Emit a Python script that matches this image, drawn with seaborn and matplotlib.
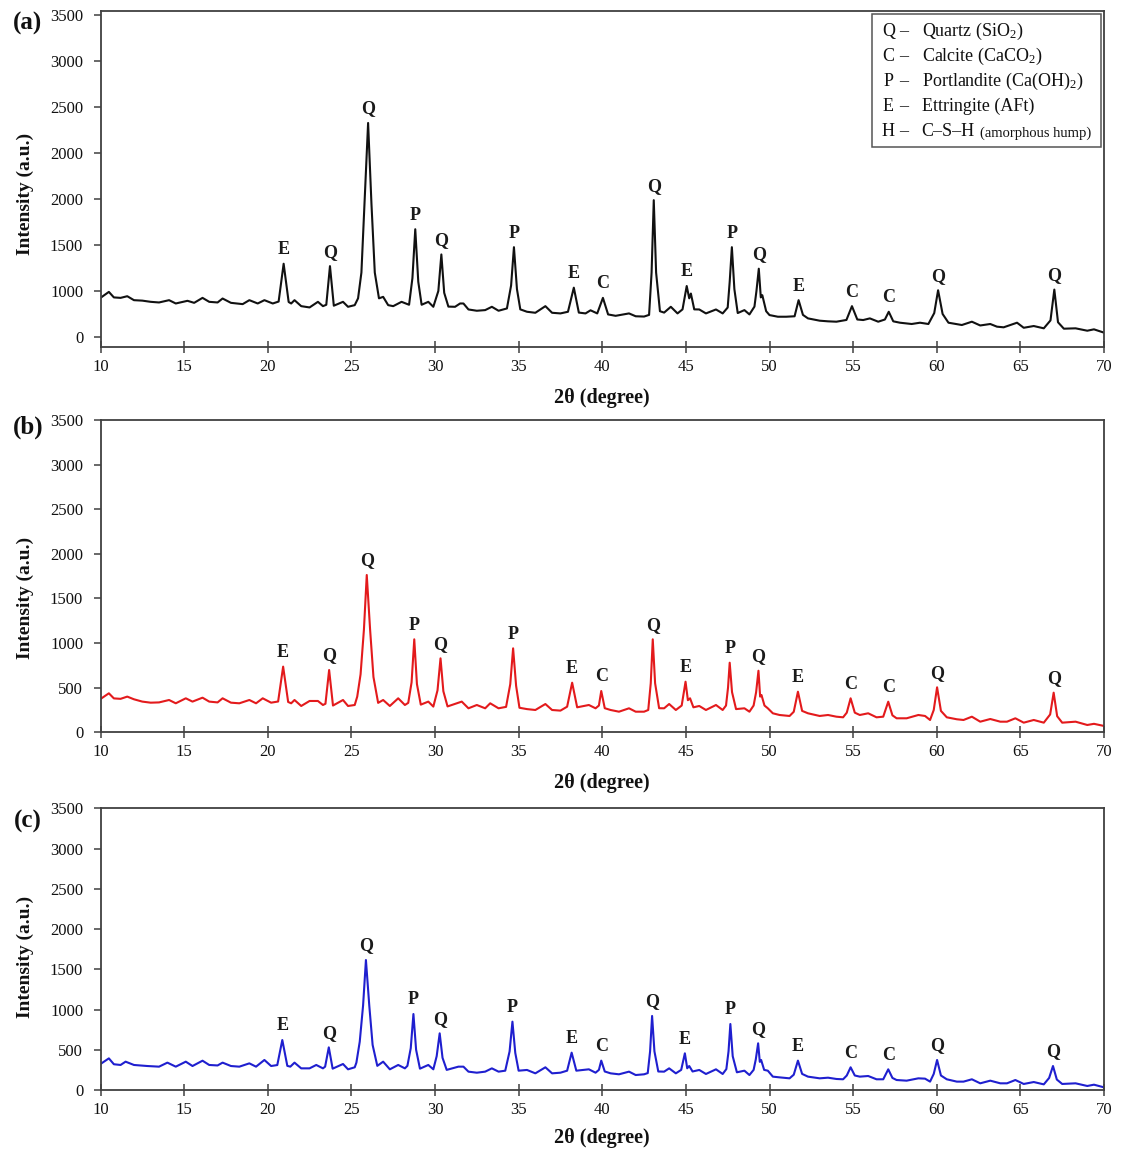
import numpy as np
import pandas as pd
import matplotlib
matplotlib.use("Agg")
import matplotlib.pyplot as plt
import seaborn as sns
from matplotlib.patches import Rectangle

# ---------------- data ----------------
theta_a = [10.0, 10.5, 10.8, 11.2, 11.6, 12.0, 12.5, 13.0, 13.5, 14.1,
           14.5, 15.2, 15.6, 16.1, 16.5, 17.0, 17.3, 17.8, 18.5, 18.9,
           19.4, 19.8, 20.3, 20.65, 20.95, 21.25, 21.4, 21.6, 22.0, 22.5,
           23.0, 23.3, 23.5, 23.72, 23.95, 24.5, 24.8, 25.2, 25.4, 25.6,
           25.8, 26.0, 26.2, 26.4, 26.65, 26.9, 27.2, 27.5, 28.0, 28.45,
           28.65, 28.82, 29.0, 29.2, 29.6, 29.9, 30.2, 30.38, 30.55, 30.8,
           31.2, 31.5, 31.7, 32.0, 32.5, 33.0, 33.4, 33.8, 34.3, 34.55,
           34.72, 34.9, 35.1, 35.5, 36.0, 36.6, 37.0, 37.5, 37.95, 38.3,
           38.6, 39.0, 39.3, 39.7, 40.04, 40.35, 40.8, 41.6, 42.0, 42.5,
           42.8, 42.95, 43.08, 43.22, 43.45, 43.7, 44.1, 44.5, 44.8, 45.05,
           45.2, 45.3, 45.5, 45.8, 46.2, 46.8, 47.2, 47.5, 47.62, 47.75,
           47.9, 48.1, 48.5, 48.8, 49.1, 49.22, 49.36, 49.48, 49.57, 49.8,
           50.0, 50.5, 51.0, 51.5, 51.74, 52.0, 52.3, 53.0, 53.5, 54.0,
           54.6, 54.93, 55.25, 55.6, 56.0, 56.5, 56.9, 57.13, 57.4, 57.8,
           58.5, 59.0, 59.5, 59.85, 60.08, 60.35, 60.7, 61.5, 62.1, 62.6,
           63.2, 63.6, 64.0, 64.8, 65.2, 65.8, 66.4, 66.8, 67.03, 67.25,
           67.6, 68.3, 69.0, 69.4, 70.0]
counts_a = [425, 490, 430, 425, 443, 400, 395, 382, 375, 400,
            364, 393, 371, 425, 382, 375, 418, 371, 357, 400,
            364, 400, 364, 385, 796, 380, 364, 400, 335, 321,
            382, 335, 350, 770, 340, 382, 328, 346, 420, 700,
            1500, 2326, 1450, 700, 420, 436, 346, 335, 382, 350,
            640, 1171, 600, 350, 382, 328, 500, 897, 480, 330,
            328, 364, 364, 299, 285, 292, 328, 285, 310, 560,
            976, 520, 300, 274, 263, 335, 263, 256, 274, 536,
            265, 256, 290, 256, 425, 245, 230, 256, 225, 222,
            240, 700, 1487, 700, 280, 265, 328, 256, 300, 554,
            420, 472, 300, 299, 256, 299, 256, 320, 600, 976,
            520, 260, 292, 245, 330, 500, 742, 430, 454, 280,
            238, 220, 220, 225, 400, 240, 202, 177, 170, 166,
            185, 335, 190, 184, 202, 166, 190, 274, 170, 155,
            141, 155, 141, 260, 508, 250, 155, 130, 166, 125,
            141, 112, 105, 155, 100, 119, 94, 180, 515, 160,
            90, 94, 68, 83, 47]

theta_b = [10.0, 10.5, 10.8, 11.2, 11.6, 12.0, 12.5, 13.0, 13.5, 14.1,
           14.5, 15.1, 15.5, 16.1, 16.5, 17.0, 17.3, 17.8, 18.3, 18.9,
           19.3, 19.7, 20.2, 20.62, 20.92, 21.22, 21.4, 21.6, 22.0, 22.5,
           23.0, 23.3, 23.45, 23.67, 23.9, 24.5, 24.8, 25.2, 25.35, 25.55,
           25.75, 25.92, 26.12, 26.32, 26.6, 26.9, 27.3, 27.8, 28.2, 28.4,
           28.6, 28.76, 28.92, 29.15, 29.6, 29.9, 30.15, 30.33, 30.5, 30.75,
           31.4, 31.6, 32.0, 32.5, 33.0, 33.3, 33.8, 34.25, 34.5, 34.67,
           34.85, 35.05, 35.5, 36.0, 36.6, 37.0, 37.5, 37.9, 38.2, 38.5,
           39.2, 39.6, 39.8, 39.94, 40.15, 40.5, 41.0, 41.6, 42.0, 42.5,
           42.75, 42.9, 43.02, 43.16, 43.4, 43.7, 44.0, 44.4, 44.75, 44.98,
           45.12, 45.25, 45.45, 45.8, 46.2, 46.8, 47.2, 47.4, 47.52, 47.62,
           47.76, 48.0, 48.5, 48.8, 49.05, 49.2, 49.34, 49.44, 49.52, 49.7,
           49.9, 50.2, 50.6, 51.2, 51.45, 51.7, 51.95, 52.3, 53.0, 53.5,
           54.0, 54.4, 54.62, 54.85, 55.1, 55.4, 55.9, 56.4, 56.8, 57.1,
           57.35, 57.6, 58.2, 58.9, 59.3, 59.6, 59.82, 60.02, 60.25, 60.6,
           61.2, 61.6, 62.1, 62.6, 63.2, 63.8, 64.2, 64.7, 65.2, 65.8,
           66.4, 66.78, 66.99, 67.2, 67.5, 68.3, 69.0, 69.4, 70.0]
counts_b = [373, 437, 380, 375, 400, 370, 344, 332, 335, 362,
            325, 381, 344, 388, 344, 335, 381, 332, 325, 362,
            325, 381, 332, 345, 736, 340, 325, 362, 295, 351,
            351, 306, 320, 698, 300, 362, 295, 306, 400, 650,
            1150, 1763, 1150, 620, 330, 362, 295, 381, 306, 330,
            560, 1042, 540, 310, 344, 288, 470, 829, 460, 290,
            332, 344, 269, 306, 269, 325, 269, 285, 540, 941,
            520, 275, 260, 250, 317, 250, 243, 287, 556, 280,
            306, 269, 300, 463, 270, 250, 231, 269, 231, 231,
            250, 550, 1042, 550, 270, 269, 317, 250, 300, 567,
            360, 381, 280, 295, 250, 306, 250, 300, 500, 780,
            450, 260, 269, 231, 300, 450, 690, 400, 418, 300,
            269, 213, 194, 183, 230, 455, 240, 213, 183, 194,
            175, 168, 220, 381, 220, 194, 213, 168, 175, 343,
            190, 157, 157, 194, 183, 138, 250, 504, 240, 168,
            146, 138, 175, 119, 149, 119, 119, 157, 108, 138,
            108, 200, 444, 180, 108, 119, 82, 95, 71]

theta_c = [10.0, 10.5, 10.8, 11.2, 11.5, 12.0, 12.8, 13.5, 14.0, 14.5,
           15.1, 15.5, 16.1, 16.5, 17.0, 17.3, 17.8, 18.3, 18.9, 19.3,
           19.8, 20.2, 20.57, 20.87, 21.17, 21.35, 21.6, 22.0, 22.5, 22.9,
           23.3, 23.43, 23.65, 23.88, 24.5, 24.8, 25.2, 25.3, 25.5, 25.7,
           25.87, 26.07, 26.27, 26.55, 26.9, 27.3, 27.8, 28.2, 28.35, 28.55,
           28.71, 28.87, 29.1, 29.6, 29.9, 30.1, 30.28, 30.45, 30.7, 31.4,
           31.7, 32.0, 32.5, 33.0, 33.4, 33.8, 34.2, 34.46, 34.63, 34.8,
           35.0, 35.5, 36.0, 36.6, 37.0, 37.5, 37.9, 38.17, 38.45, 39.2,
           39.6, 39.8, 39.94, 40.15, 40.5, 41.0, 41.6, 42.0, 42.5, 42.72,
           42.86, 42.98, 43.12, 43.35, 43.7, 44.0, 44.4, 44.72, 44.94, 45.08,
           45.2, 45.4, 45.8, 46.2, 46.8, 47.2, 47.42, 47.55, 47.66, 47.8,
           48.05, 48.5, 48.8, 49.05, 49.18, 49.32, 49.42, 49.5, 49.68, 49.9,
           50.2, 50.6, 51.2, 51.45, 51.7, 51.95, 52.3, 53.0, 53.5, 54.0,
           54.4, 54.62, 54.85, 55.1, 55.4, 55.9, 56.4, 56.8, 57.1, 57.35,
           57.6, 58.2, 58.9, 59.3, 59.6, 59.82, 60.02, 60.25, 60.6, 61.2,
           61.6, 62.1, 62.6, 63.2, 63.8, 64.2, 64.7, 65.2, 65.8, 66.4,
           66.72, 66.95, 67.18, 67.5, 68.3, 69.0, 69.4, 70.0]
counts_c = [323, 393, 320, 311, 352, 311, 298, 290, 340, 290,
            352, 298, 364, 311, 305, 340, 298, 290, 331, 290,
            373, 298, 310, 621, 300, 290, 340, 269, 269, 311,
            269, 290, 530, 265, 323, 257, 282, 340, 600, 1050,
            1615, 1050, 560, 300, 352, 257, 311, 269, 300, 520,
            944, 500, 265, 311, 257, 420, 704, 400, 250, 290,
            290, 228, 215, 228, 269, 228, 240, 480, 849, 460,
            240, 249, 207, 282, 207, 215, 240, 464, 240, 257,
            215, 250, 365, 230, 207, 195, 228, 186, 195, 210,
            480, 920, 480, 230, 228, 269, 207, 250, 456, 270,
            298, 230, 249, 199, 257, 199, 260, 480, 820, 420,
            220, 240, 186, 250, 380, 580, 350, 373, 250, 240,
            166, 157, 145, 190, 365, 200, 166, 145, 153, 137,
            133, 180, 282, 180, 166, 174, 133, 133, 257, 150,
            124, 116, 145, 141, 104, 200, 373, 180, 133, 104,
            104, 133, 83, 116, 83, 83, 124, 75, 99, 70,
            150, 298, 130, 75, 83, 50, 66, 33]

peak_pos = [20.9, 23.7, 25.95, 28.8, 30.35, 34.7, 38.2, 40.0, 43.05,
            45.0, 47.7, 49.35, 51.72, 54.88, 57.1, 60.05, 67.0]
peak_phase = ["E", "Q", "Q", "P", "Q", "P", "E", "C", "Q",
              "E", "P", "Q", "E", "C", "C", "Q", "Q"]

x_ticks = list(range(10, 71, 5))
y_ticks = [0, 500, 1000, 1500, 2000, 2500, 3000, 3500]
y_labels_a = ["0", "1000", "1500", "2000", "2000", "2500", "3000", "3500"]
y_labels_bc = ["0", "500", "1000", "1500", "2000", "2500", "3000", "3500"]

legend_letters = ["Q", "C", "P", "E", "H"]
legend_names = ["Quartz (SiO$_2$)", "Calcite (CaCO$_2$)",
                "Portlandite (Ca(OH)$_2$)", "Ettringite (AFt)", "C\u2013S\u2013H"]

# ---------------- style ----------------
sns.set_theme(style="ticks")
plt.rcParams["font.family"] = ["Liberation Serif", "DejaVu Serif"]
plt.rcParams["mathtext.fontset"] = "custom"
plt.rcParams["mathtext.rm"] = "Liberation Serif"
plt.rcParams["mathtext.it"] = "Liberation Serif:italic"
plt.rcParams["mathtext.bf"] = "Liberation Serif:bold"

W, H = 1122, 1155
fig = plt.figure(figsize=(W / 100, H / 100), dpi=100)

panels = [
    dict(tag="(a)", x=theta_a, y=counts_a, color="#111111", ylabels=y_labels_a,
         top=11, bottom=347, ylim=(-109, 3543), ylab_y=0.455, xlab_y=-0.152, tag_y=23),
    dict(tag="(b)", x=theta_b, y=counts_b, color="#e31a1c", ylabels=y_labels_bc,
         top=420, bottom=732.3, ylim=(0, 3500), ylab_y=0.43, xlab_y=-0.162, tag_y=427),
    dict(tag="(c)", x=theta_c, y=counts_c, color="#1f1fcf", ylabels=y_labels_bc,
         top=808.3, bottom=1090, ylim=(0, 3500), ylab_y=0.473, xlab_y=-0.170, tag_y=821),
]
left_px, right_px = 100.5, 1104

axes = []
for p in panels:
    ax = fig.add_axes([left_px / W, 1 - p["bottom"] / H,
                       (right_px - left_px) / W, (p["bottom"] - p["top"]) / H])
    axes.append(ax)
    df = pd.DataFrame({"two_theta": p["x"], "intensity": p["y"]})
    sns.lineplot(data=df, x="two_theta", y="intensity", ax=ax, color=p["color"],
                 lw=1.5, estimator=None, sort=False)
    ax.set_xlim(10, 70)
    ax.set_ylim(*p["ylim"])
    ax.set_xticks(x_ticks)
    ax.set_xticklabels([str(t) for t in x_ticks])
    ax.set_yticks(y_ticks)
    ax.set_yticklabels(p["ylabels"])
    for sp in ax.spines.values():
        sp.set_color("#404040")
        sp.set_linewidth(1.3)
    ax.tick_params(axis="y", direction="out", length=5, width=1.1, pad=7.5,
                   labelsize=12, color="#404040", labelcolor="#111111")
    ax.tick_params(axis="x", direction="inout", length=8, width=1.1, pad=4.5,
                   labelsize=12, color="#404040", labelcolor="#111111")
    ax.set_xlabel("2\u03b8 (degree)", fontsize=14.5, fontweight="bold", color="#111111")
    ax.set_ylabel("Intensity (a.u.)", fontsize=14, fontweight="bold", color="#111111")
    ax.xaxis.label.set_va("center")
    ax.yaxis.label.set_va("center")
    ax.xaxis.set_label_coords(0.5, p["xlab_y"])
    ax.yaxis.set_label_coords((25 - left_px) / (right_px - left_px), p["ylab_y"])

    # phase labels above peaks
    xs = np.asarray(p["x"])
    ys = np.asarray(p["y"])
    for pos, ph in zip(peak_pos, peak_phase):
        m = np.abs(xs - pos) <= 0.3
        i = np.flatnonzero(m)[np.argmax(ys[m])]
        ax.annotate(ph, xy=(xs[i], ys[i]), xytext=(0, 4), textcoords="offset points",
                    ha="center", va="bottom", fontsize=13, fontweight="bold",
                    color="#1a1a1a")

    fig.text(28 / W, 1 - p["tag_y"] / H, p["tag"], fontsize=18, fontweight="bold",
             ha="center", va="center", color="#111111")

# legend box in panel (a)
ax = axes[0]
def ax_x(px):
    return (px - left_px) / (right_px - left_px)
def ax_y(py):
    return (347 - py) / (347 - 11)

bx0, bx1 = ax_x(871.7), ax_x(1100.7)
by0, by1 = ax_y(146.7), ax_y(14)
ax.add_patch(Rectangle((bx0, by0), bx1 - bx0, by1 - by0, transform=ax.transAxes,
                       facecolor="white", edgecolor="#555555", lw=1.1, zorder=5))
line_py = [31.7, 56.7, 81.7, 106.7, 131.7]
for letter, name, py in zip(legend_letters, legend_names, line_py):
    yy = ax_y(py)
    ax.text(ax_x(888.3), yy, letter, transform=ax.transAxes, ha="center", va="center",
            fontsize=13, color="#111111", zorder=6)
    ax.text(ax_x(904), yy, "\u2013", transform=ax.transAxes, ha="center", va="center",
            fontsize=13, color="#111111", zorder=6)
    t = ax.text(ax_x(921.7), yy, name, transform=ax.transAxes, ha="left", va="center",
                fontsize=13, color="#111111", zorder=6)
    if letter == "H":
        ax.annotate("(amorphous hump)", xy=(1, 0), xycoords=t, xytext=(4, 0.5),
                    textcoords="offset points", ha="left", va="bottom",
                    fontsize=10.5, color="#111111", zorder=6)

fig.savefig("out.png", dpi=100)
